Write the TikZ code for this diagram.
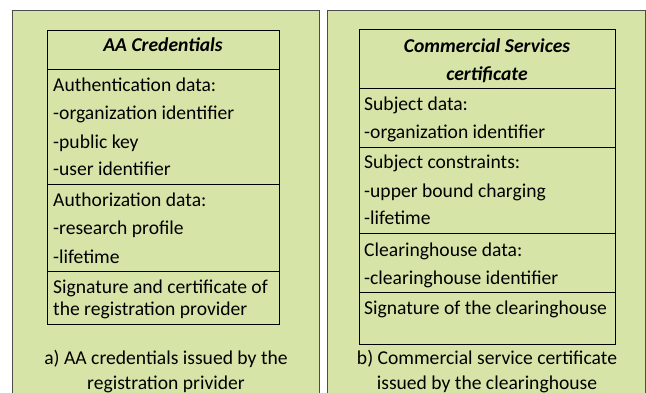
\documentclass[tikz,border=0pt]{standalone}
\usepackage{fontspec}
\setmainfont{Carlito}
\begin{document}
\begin{tikzpicture}[x=1pt,y=-1pt,
  panel/.style={draw=black!70, line width=1.2pt, fill=panelgreen, anchor=north west, inner sep=0pt},
  row/.style={draw=black, line width=1.4pt, anchor=north west, inner sep=0pt},
  txt/.style={anchor=base west, inner sep=0pt, font=\fontsize{19.6}{23}\selectfont},
  ttl/.style={anchor=base, inner sep=0pt, font=\fontsize{19.6}{23}\selectfont\bfseries\itshape},
  captext/.style={anchor=base, inner sep=0pt, font=\fontsize{19.6}{23}\selectfont}]
\definecolor{panelgreen}{RGB}{215,228,168}
\useasboundingbox (0,0) rectangle (646,393);
\fill[white] (0,0) rectangle (646,393);
% background panels (they run past the lower and right edges)
\node[panel, minimum width=307pt, minimum height=400pt] (pa) at (12,10) {};
\node[panel, minimum width=318pt, minimum height=400pt] (pb) at (327,10) {};
% left record: AA credentials
\node[row, minimum width=232pt, minimum height=39pt] (la) at (47,30) {};
\node[row, minimum width=232pt, minimum height=115pt] (lb) at (47,69) {};
\node[row, minimum width=232pt, minimum height=87pt] (lc) at (47,184) {};
\node[row, minimum width=232pt, minimum height=53pt] (ld) at (47,271) {};
\node[ttl] (lt) at (163,52) {AA Credentials};
\node[txt] (l1) at (53,92) {Authentication data:};
\node[txt] (l2) at (53,120) {-organization identifier};
\node[txt] (l3) at (53,149) {-public key};
\node[txt] (l4) at (53,176) {-user identifier};
\node[txt] (l5) at (53,207) {Authorization data:};
\node[txt] (l6) at (53,235) {-research profile};
\node[txt] (l7) at (53,263) {-lifetime};
\node[txt] (l8) at (53,293) {Signature and certificate of};
\node[txt] (l9) at (53,316) {the registration provider};
\node[captext] (ca1) at (166,364) {a) AA credentials issued by the};
\node[captext] (ca2) at (166,389) {registration privider};
% right record: commercial services certificate
\node[row, minimum width=256pt, minimum height=59pt] (ra) at (359,29) {};
\node[row, minimum width=256pt, minimum height=59pt] (rb) at (359,88) {};
\node[row, minimum width=256pt, minimum height=86pt] (rc) at (359,147) {};
\node[row, minimum width=256pt, minimum height=59pt] (rd) at (359,233) {};
\node[row, minimum width=256pt, minimum height=52pt] (re) at (359,292) {};
\node[ttl] (rt1) at (487,53) {Commercial Services};
\node[ttl] (rt2) at (487,81) {certificate};
\node[txt] (r1) at (364,111) {Subject data:};
\node[txt] (r2) at (364,139) {-organization identifier};
\node[txt] (r3) at (364,169) {Subject constraints:};
\node[txt] (r4) at (364,198) {-upper bound charging};
\node[txt] (r5) at (364,225) {-lifetime};
\node[txt] (r6) at (364,256) {Clearinghouse data:};
\node[txt] (r7) at (364,284) {-clearinghouse identifier};
\node[txt] (r8) at (364,314) {Signature of the clearinghouse};
\node[captext] (cb1) at (487,364) {b) Commercial service certificate};
\node[captext] (cb2) at (487,389) {issued by the clearinghouse};
\end{tikzpicture}
\end{document}
